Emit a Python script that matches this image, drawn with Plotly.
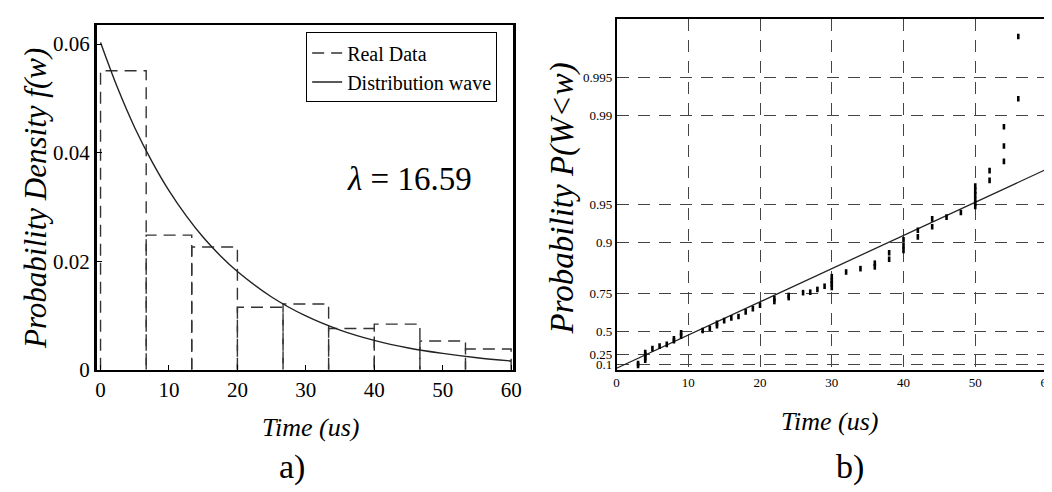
import numpy as np
import plotly.graph_objects as go

# a) histogram of waiting times + fitted exponential density
bin_edges = [0, 6.67, 13.33, 20, 26.67, 33.33, 40, 46.67, 53.33, 60]
bin_heights = [0.0551, 0.0248, 0.0226, 0.0115, 0.0121, 0.0076, 0.0084, 0.0053, 0.0038]

curve_time = [0, 2.5, 5, 7.5, 10, 12.5, 15, 17.5, 20, 25, 30, 35, 40, 45, 50, 55, 60]
curve_dens = [0.0603, 0.0519, 0.0446, 0.0384, 0.0330, 0.0284, 0.0244, 0.0210, 0.0181,
              0.0134, 0.0099, 0.0073, 0.0054, 0.0040, 0.0030, 0.0022, 0.0016]

# b) exponential probability plot
cdf_time = [3, 3, 4, 4, 4, 4, 5, 6, 7, 8, 8, 9, 9, 12, 13, 14, 14, 15, 16, 17, 18, 19, 20,
            22, 22, 24, 24, 26, 27, 28, 29, 30, 30, 30, 30, 32, 34, 36, 36, 38, 38,
            40, 40, 40, 42, 42, 44, 44, 46, 48, 50, 50, 50, 50, 50, 50, 52, 52,
            54, 54, 54, 56, 56]
cdf_prob = [0.08, 0.11, 0.16, 0.20, 0.24, 0.27, 0.32, 0.35, 0.37, 0.41, 0.43, 0.46, 0.49,
            0.51, 0.53, 0.55, 0.57, 0.59, 0.61, 0.62, 0.65, 0.67, 0.69,
            0.71, 0.725, 0.73, 0.74, 0.753, 0.755, 0.767, 0.78, 0.775, 0.79, 0.80, 0.815,
            0.83, 0.84, 0.845, 0.855, 0.865, 0.88,
            0.885, 0.895, 0.905, 0.91, 0.92, 0.925, 0.935, 0.937, 0.942,
            0.948, 0.951, 0.954, 0.958, 0.961, 0.964, 0.9676, 0.9728,
            0.977, 0.9826, 0.9877, 0.9926, 0.9976]

fit_time = [0, 60]
fit_prob = [0.03, 0.9736]

prob_ticks = [0.1, 0.25, 0.5, 0.75, 0.9, 0.95, 0.99, 0.995]
prob_labels = ["0.1", "0.25", "0.5", "0.75", "0.9", "0.95", "0.99", "0.995"]
time_ticks = [0, 10, 20, 30, 40, 50, 60]


def expscale(p):
    # exponential probability paper: -ln(1-p)
    return -np.log(1 - np.asarray(p, dtype=float))


SERIF = "Liberation Serif"

hx, hy = [], []
for l, r, h in zip(bin_edges[:-1], bin_edges[1:], bin_heights):
    hx += [l, l, r, r, None]
    hy += [0, h, h, 0, None]

fig = go.Figure()
fig.add_trace(go.Scatter(x=hx, y=hy, mode="lines", name="Real Data",
                         line=dict(color="#333333", width=1.4, dash="12px,7px")))
fig.add_trace(go.Scatter(x=curve_time, y=curve_dens, mode="lines", name="Distribution wave",
                         line=dict(color="#222222", width=1.4, shape="spline")))

fig.add_trace(go.Scatter(x=fit_time, y=expscale(fit_prob), mode="lines", showlegend=False,
                         xaxis="x2", yaxis="y2", line=dict(color="#222222", width=1.3)))
fig.add_trace(go.Scatter(x=cdf_time, y=expscale(cdf_prob), mode="markers", showlegend=False,
                         xaxis="x2", yaxis="y2",
                         marker=dict(symbol="line-ns", size=4,
                                     line=dict(color="black", width=2.6))))

axis_common = dict(showline=True, linecolor="black", mirror=True, zeroline=False,
                   showgrid=False)
grid_common = dict(showline=True, linecolor="black", mirror=True, linewidth=1.5,
                   zeroline=False, showgrid=True, gridcolor="#444444", gridwidth=1.4,
                   griddash="12px,9px", ticks="", tickfont=dict(size=13, family=SERIF))

fig.update_layout(
    width=1052, height=492,
    margin=dict(l=0, r=0, t=0, b=0),
    paper_bgcolor="white", plot_bgcolor="white",
    font=dict(family=SERIF, color="black"),
    xaxis=dict(domain=[0.0824, 0.4824], range=[-0.55, 60.3], tickvals=time_ticks,
               ticks="inside", ticklen=5, tickcolor="black",
               tickfont=dict(size=21, family=SERIF), linewidth=1.5, **axis_common),
    yaxis=dict(domain=[0.2465, 0.9654], range=[0, 0.0636],
               tickvals=[0, 0.02, 0.04, 0.06], ticktext=["0", "0.02", "0.04", "0.06"],
               ticks="inside", ticklen=5, tickcolor="black",
               tickfont=dict(size=21, family=SERIF), linewidth=2.5, **axis_common),
    xaxis2=dict(domain=[0.5817, 0.9971], range=[0, 60.28], anchor="y2",
                tickvals=time_ticks, **grid_common),
    yaxis2=dict(domain=[0.2459, 0.9762], range=[0, 6.34], anchor="x2",
                tickvals=expscale(prob_ticks), ticktext=prob_labels, **grid_common),
    legend=dict(x=0.467, y=0.949, xanchor="right", yanchor="top",
                bgcolor="white", bordercolor="black", borderwidth=1,
                font=dict(size=20, family=SERIF), itemwidth=30, tracegroupgap=0),
)

annotations = [
    dict(text="<i>Probability Density f(w)</i>", x=24 / 1052, y=1 - 195 / 492,
         textangle=-90, font=dict(size=31)),
    dict(text="<i>Time (us)</i>", x=303 / 1052, y=1 - 430 / 492, font=dict(size=26)),
    dict(text="a)", x=284 / 1052, y=1 - 470 / 492, font=dict(size=34)),
    dict(text="<i>Probability P(W<w)</i>", x=557 / 1052, y=1 - 195 / 492,
         textangle=-90, font=dict(size=33)),
    dict(text="<i>Time (us)</i>", x=828 / 1052, y=1 - 424 / 492, font=dict(size=26)),
    dict(text="b)", x=848 / 1052, y=1 - 470 / 492, font=dict(size=34)),
    dict(text="<i>λ</i> = 16.59", x=403 / 1052, y=1 - 175 / 492, font=dict(size=33)),
]
for a in annotations:
    a.update(xref="paper", yref="paper", showarrow=False, xanchor="center", yanchor="middle")
    a["font"]["family"] = SERIF
    a["font"]["color"] = "black"
fig.update_layout(annotations=annotations)

fig.write_html("out.html")
